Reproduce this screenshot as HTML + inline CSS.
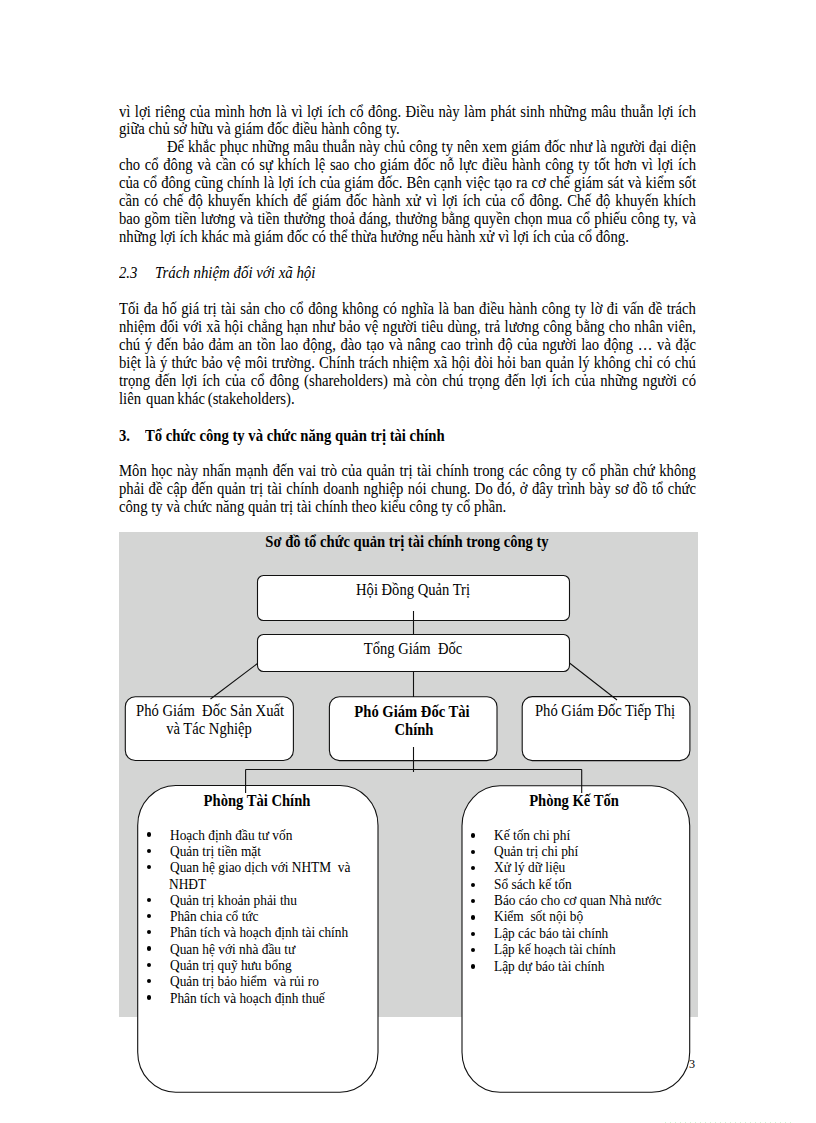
<!DOCTYPE html>
<html><head><meta charset="utf-8">
<style>
html,body{margin:0;padding:0;background:#fff;}
body{width:816px;height:1123px;position:relative;overflow:hidden;font-family:"Liberation Serif",serif;color:#000;}
.l{position:absolute;left:119px;width:629.2px;height:18px;line-height:18px;font-size:16px;white-space:pre;transform:scaleX(0.917);transform-origin:0 0;}
.j{text-align:justify;text-align-last:justify;white-space:normal;}
.b{font-weight:bold;}
.i{font-style:italic;}
#gray{position:absolute;left:119px;top:532px;width:579px;height:485px;background:#d4d5d4;}
svg{position:absolute;left:0;top:0;}
.c{position:absolute;text-align:center;white-space:pre;font-size:16px;line-height:18px;transform:scaleX(0.912);transform-origin:50% 0;}
.dot{position:absolute;width:4.4px;height:4.4px;border-radius:50%;background:#000;}
.bl{position:absolute;font-size:14.67px;line-height:16.2px;white-space:pre;transform:scaleX(0.912);transform-origin:0 0;}
</style></head><body>
<!-- paragraph 1 -->
<div class="l j" style="top:102.5px">vì lợi riêng của mình  hơn là vì lợi ích cổ đông. Điều này làm phát sinh những mâu thuẫn lợi ích</div>
<div class="l" style="top:120.4px">giữa chủ sở hữu và giám đốc điều hành công ty.</div>
<div class="l j" style="top:138.2px;left:167px;width:576.9px">Để khắc phục những mâu thuẫn này chủ công ty nên xem giám đốc như là người đại diện</div>
<div class="l j" style="top:156.0px">cho cổ đông và cần có sự khích lệ sao cho giám đốc nỗ lực điều hành công ty tốt hơn vì lợi ích</div>
<div class="l j" style="top:173.9px">của cổ đông cũng chính là lợi ích của giám đốc. Bên cạnh việc tạo ra cơ chế giám  sát và kiểm sốt</div>
<div class="l j" style="top:191.7px">cần có chế độ khuyến khích  để giám đốc hành xử vì lợi ích của cổ đông. Chế độ khuyến khích</div>
<div class="l j" style="top:209.5px">bao gồm tiền lương và tiền thưởng thoả đáng, thưởng bằng quyền chọn mua cổ phiếu công ty, và</div>
<div class="l" style="top:228.0px">những lợi ích khác mà giám đốc có thể thừa hưởng nếu hành xử vì lợi ích của cổ đông.</div>

<div class="l i" style="top:263.5px">2.3</div>
<div class="l i" style="top:263.5px;left:154.6px;transform:scaleX(0.93)">Trách nhiệm đối với xã hội</div>

<div class="l j" style="top:300.0px">Tối đa hố giá trị tài sản cho cổ đông không có nghĩa là ban điều hành công ty lờ đi vấn đề trách</div>
<div class="l j" style="top:317.9px">nhiệm đối với xã hội chẳng hạn như bảo vệ người tiêu dùng, trả lương công bằng cho nhân viên,</div>
<div class="l j" style="top:335.8px">chú ý đến bảo đảm an tồn lao động, đào tạo và nâng cao trình độ của người lao động … và đặc</div>
<div class="l j" style="top:353.7px">biệt là ý thức bảo vệ môi trường. Chính trách nhiệm xã hội đòi hỏi ban quản lý không chỉ có chú</div>
<div class="l j" style="top:371.6px">trọng đến lợi ích của cổ đông (shareholders) mà còn chú trọng đến lợi ích của những người có</div>
<div class="l" style="top:389.5px;word-spacing:-1px">liên <span style="margin-left:2.5px">quan</span> khác (stakeholders).</div>

<div class="l b" style="top:427.0px">3.</div>
<div class="l b" style="top:427.0px;left:145px">Tổ chức công ty và chức năng quản trị tài chính</div>

<div class="l j" style="top:462.0px">Môn học này nhấn mạnh đến vai trò của quản trị tài chính trong các công ty cổ phần chứ không</div>
<div class="l j" style="top:480.0px">phải đề cập đến quản trị tài chính doanh nghiệp nói chung. Do đó, ở đây trình bày sơ đồ tổ chức</div>
<div class="l" style="top:498.0px">công ty và chức năng quản trị tài chính theo kiểu công ty cổ phần.</div>

<div id="gray"></div>

<svg width="816" height="1123" viewBox="0 0 816 1123" fill="#fff" stroke="#111" stroke-width="1.1">
<rect x="257.5" y="575.5" width="312" height="45" rx="6"/>
<rect x="257.5" y="634.5" width="312" height="37" rx="6"/>
<rect x="125.3" y="696.8" width="168.1" height="63.7" rx="10"/>
<rect x="329.4" y="696.8" width="167.6" height="63.8" rx="10"/>
<rect x="522.2" y="696.6" width="167.7" height="64" rx="10"/>
<rect x="137.7" y="785.5" width="240.3" height="306.7" rx="38" ry="40"/>
<rect x="462" y="785.8" width="227.7" height="306.5" rx="38" ry="40"/>
<g fill="none">
<path d="M413.5 611V634.3M413.5 671.5V697M413.5 747V772M257.5 663.5L210.5 699M569.5 663L617 700M245.6 769.5H581.8M245.6 769.5V793M581.7 769.5V793"/>
</g>
</svg>
<div class="c b" style="left:206.5px;width:400px;top:533px">Sơ đồ tổ chức quản trị tài chính trong công ty</div>
<div class="c" style="left:212.8px;width:400px;top:581.3px">Hội Đồng Quản Trị</div>
<div class="c" style="left:212.8px;width:400px;top:640.2px">Tổng Giám  Đốc</div>
<div class="c" style="left:9.6px;width:400px;top:701.6px">Phó Giám  Đốc Sản Xuất</div>
<div class="c" style="left:8.5px;width:400px;top:720.2px">và Tác Nghiệp</div>
<div class="c b" style="left:211.8px;width:400px;top:703.2px">Phó Giám Đốc Tài</div>
<div class="c b" style="left:213.9px;width:400px;top:720.7px">Chính</div>
<div class="c" style="left:405.2px;width:400px;top:701.9px">Phó Giám Đốc Tiếp Thị</div>
<div class="c b" style="left:57.2px;width:400px;top:791.9px">Phòng Tài Chính</div>
<div class="c b" style="left:373.9px;width:400px;top:792.1px">Phòng Kế Tốn</div>
<div class="dot" style="left:146.9px;top:832.4px"></div>
<div class="bl" style="left:170px;top:826.6px">Hoạch định đầu tư vốn</div>
<div class="dot" style="left:146.9px;top:848.7px"></div>
<div class="bl" style="left:170px;top:842.9px">Quản trị tiền mặt</div>
<div class="dot" style="left:146.9px;top:865.0px"></div>
<div class="bl" style="left:170px;top:859.2px">Quan hệ giao dịch với NHTM  và</div>
<div class="bl" style="left:169.4px;top:875.5px">NHĐT</div>
<div class="dot" style="left:146.9px;top:897.6px"></div>
<div class="bl" style="left:170px;top:891.8px">Quản trị khoản phải thu</div>
<div class="dot" style="left:146.9px;top:913.9px"></div>
<div class="bl" style="left:170px;top:908.1px">Phân chia cổ tức</div>
<div class="dot" style="left:146.9px;top:930.1px"></div>
<div class="bl" style="left:170px;top:924.3px">Phân tích và hoạch định tài chính</div>
<div class="dot" style="left:146.9px;top:946.4px"></div>
<div class="bl" style="left:170px;top:940.6px">Quan hệ với nhà đầu tư</div>
<div class="dot" style="left:146.9px;top:962.7px"></div>
<div class="bl" style="left:170px;top:956.9px">Quản trị quỹ hưu bổng</div>
<div class="dot" style="left:146.9px;top:979.0px"></div>
<div class="bl" style="left:170px;top:973.2px">Quản trị bảo hiểm  và rủi ro</div>
<div class="dot" style="left:146.9px;top:995.3px"></div>
<div class="bl" style="left:170px;top:989.5px">Phân tích và hoạch định thuế</div>
<div class="dot" style="left:470.9px;top:833.4px"></div>
<div class="bl" style="left:494px;top:826.6px">Kế tốn chi phí</div>
<div class="dot" style="left:470.9px;top:849.8px"></div>
<div class="bl" style="left:494px;top:843.0px">Quản trị chi phí</div>
<div class="dot" style="left:470.9px;top:866.1px"></div>
<div class="bl" style="left:494px;top:859.3px">Xử lý dữ liệu</div>
<div class="dot" style="left:470.9px;top:882.5px"></div>
<div class="bl" style="left:494px;top:875.7px">Sổ sách kế tốn</div>
<div class="dot" style="left:470.9px;top:898.8px"></div>
<div class="bl" style="left:494px;top:892.0px">Báo cáo cho cơ quan Nhà nước</div>
<div class="dot" style="left:470.9px;top:915.2px"></div>
<div class="bl" style="left:494px;top:908.4px">Kiểm  sốt nội bộ</div>
<div class="dot" style="left:470.9px;top:931.6px"></div>
<div class="bl" style="left:494px;top:924.8px">Lập các báo tài chính</div>
<div class="dot" style="left:470.9px;top:947.9px"></div>
<div class="bl" style="left:494px;top:941.1px">Lập kế hoạch tài chính</div>
<div class="dot" style="left:470.9px;top:964.3px"></div>
<div class="bl" style="left:494px;top:957.5px">Lập dự báo tài chính</div>
<div class="bl" style="left:689px;top:1056px;font-size:13.3px">3</div>
<div style="position:absolute;left:665px;top:1122px;width:126px;height:1px;background:repeating-linear-gradient(90deg,#cff7cf 0 1px,transparent 1px 5px)"></div>
</body></html>
